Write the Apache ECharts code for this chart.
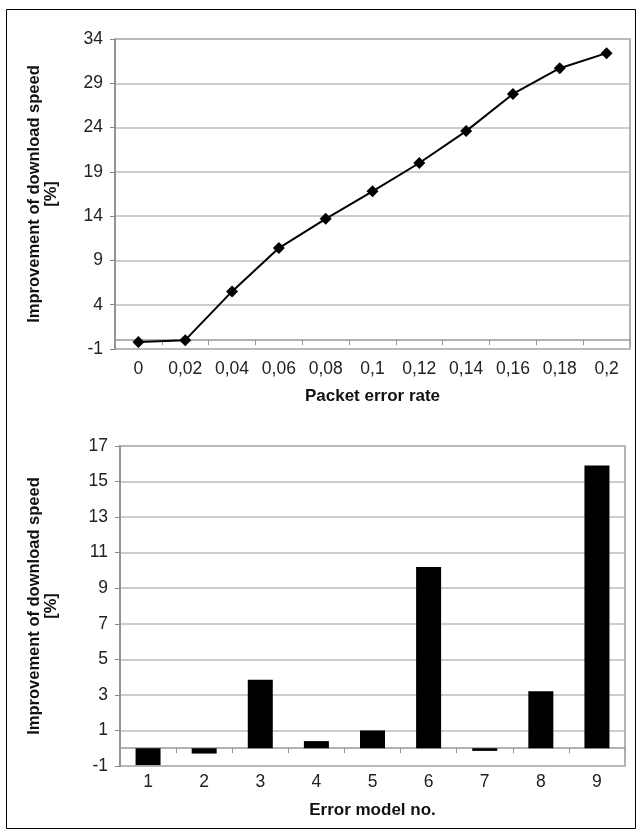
<!DOCTYPE html>
<html>
<head>
<meta charset="utf-8">
<script src="https://cdn.jsdelivr.net/npm/echarts@6/dist/echarts.min.js"></script>
<style>
  html, body { margin: 0; padding: 0; background: #fff; }
  #chart { width: 640px; height: 832px; }
</style>
</head>
<body>
<div id="chart"></div>
<script>
// top chart: improvement vs packet error rate
var errorRates = ['0', '0,02', '0,04', '0,06', '0,08', '0,1', '0,12', '0,14', '0,16', '0,18', '0,2']
var rateImprovement = [-0.2, 0, 5.5, 10.4, 13.7, 16.8, 20.0, 23.6, 27.8, 30.7, 32.4]

// bottom chart: improvement per error model
var errorModels = ['1', '2', '3', '4', '5', '6', '7', '8', '9']
var modelImprovement = [-0.95, -0.3, 3.85, 0.4, 1.0, 10.2, -0.15, 3.2, 15.9]

var yTitle = 'Improvement of download speed\n[%]'
var font = 'Liberation Sans, Arial, sans-serif'

var chart = echarts.init(document.getElementById('chart'))

function valueAxis (gridIndex, min, max, interval, gap) {
  return {
    type: 'value',
    gridIndex: gridIndex,
    min: min,
    max: max,
    interval: interval,
    name: yTitle,
    nameLocation: 'middle',
    nameRotate: 90,
    nameGap: gap,
    nameTextStyle: { fontFamily: font, fontSize: 16.5, fontWeight: 'bold', color: '#111', lineHeight: 17 },
    axisLine: { show: true, lineStyle: { color: '#888', width: 1.5 } },
    axisTick: { show: true, length: 5, lineStyle: { color: '#888' } },
    axisLabel: { fontFamily: font, fontSize: 17.5, color: '#222', margin: 12 },
    splitLine: { show: true, lineStyle: { color: '#bbb', width: 1.5 } }
  }
}

function zeroAxis (gridIndex, data) {
  return {
    type: 'category',
    gridIndex: gridIndex,
    data: data,
    position: 'bottom',
    axisLine: { onZero: true, lineStyle: { color: '#999', width: 1.5 } },
    axisTick: { show: true, length: 5, lineStyle: { color: '#999' } },
    axisLabel: { show: false },
    splitLine: { show: false }
  }
}

function labelAxis (gridIndex, data, name, margin, gap) {
  return {
    type: 'category',
    gridIndex: gridIndex,
    data: data,
    position: 'bottom',
    name: name,
    nameLocation: 'middle',
    nameGap: gap,
    nameTextStyle: { fontFamily: font, fontSize: 17, fontWeight: 'bold', color: '#111' },
    axisLine: { show: false, onZero: false },
    axisTick: { show: false },
    axisLabel: { fontFamily: font, fontSize: 17.5, color: '#222', margin: margin },
    splitLine: { show: false }
  }
}

chart.setOption({
  animation: false,
  backgroundColor: '#fff',
  graphic: [{
    type: 'rect',
    shape: { x: 6.5, y: 9.5, width: 629, height: 819 },
    style: { fill: 'none', stroke: '#000', lineWidth: 1 }
  }],
  grid: [
    { left: 115, right: 10, top: 39, bottom: 483, show: true, borderColor: '#999', borderWidth: 1.5 },
    { left: 120, right: 15, top: 446, bottom: 66, show: true, borderColor: '#999', borderWidth: 1.5 }
  ],
  xAxis: [
    zeroAxis(0, errorRates),
    labelAxis(0, errorRates, 'Packet error rate', 11, 39),
    zeroAxis(1, errorModels),
    labelAxis(1, errorModels, 'Error model no.', 7, 36)
  ],
  yAxis: [
    valueAxis(0, -1, 34, 5, 55),
    valueAxis(1, -1, 17, 2, 60)
  ],
  series: [
    {
      type: 'line',
      xAxisIndex: 0,
      yAxisIndex: 0,
      data: rateImprovement,
      symbol: 'diamond',
      symbolSize: 12,
      itemStyle: { color: '#000' },
      lineStyle: { color: '#000', width: 2 }
    },
    {
      type: 'bar',
      xAxisIndex: 2,
      yAxisIndex: 1,
      data: modelImprovement,
      barWidth: 25,
      itemStyle: { color: '#000' }
    }
  ]
})
</script>
</body>
</html>
